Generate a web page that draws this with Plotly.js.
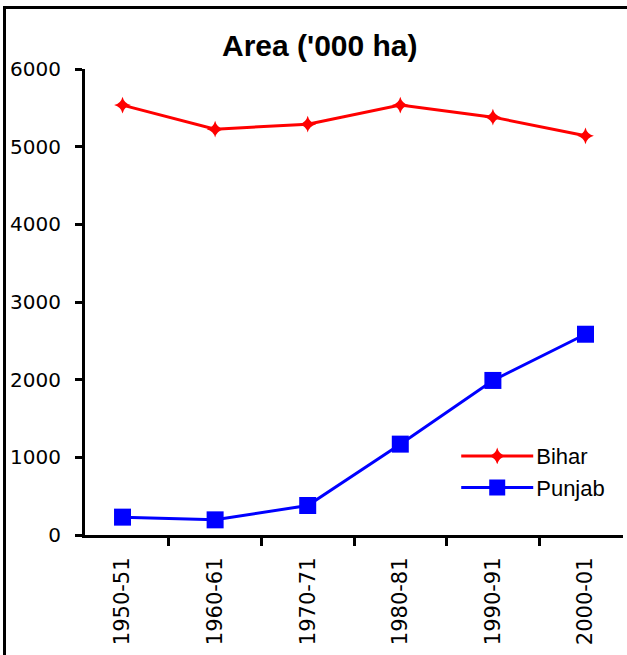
<!DOCTYPE html>
<html>
<head>
<meta charset="utf-8">
<script src="https://cdn.plot.ly/plotly-3.0.1.min.js"></script>
<style>
  html, body { margin: 0; padding: 0; background: #fff; }
  #wrap { position: relative; width: 627px; height: 655px; overflow: hidden; }
  #chart { position: absolute; left: 0; top: 0; width: 627px; height: 655px; }
  #frame { position: absolute; left: 3px; top: 6px; width: 700px; height: 700px;
           border-left: 3px solid #000; border-top: 3px solid #000; pointer-events: none; }
</style>
</head>
<body>
<div id="wrap">
  <div id="chart"></div>
  <div id="frame"></div>
</div>
<script>
const years = ["1950-51", "1960-61", "1970-71", "1980-81", "1990-91", "2000-01"];
const bihar = [5535, 5225, 5290, 5535, 5380, 5140];
const punjab = [230, 195, 380, 1170, 1990, 2585];
const yTicks = [0, 1000, 2000, 3000, 4000, 5000, 6000];

const xTickFont = { family: "DejaVu Sans, sans-serif", size: 21, color: "#000" };
const yTickFont = { family: "DejaVu Sans, sans-serif", size: 20, color: "#000" };

const traces = [
  {
    x: years, y: bihar, name: "Bihar", type: "scatter", mode: "lines+markers",
    line: { color: "#ff0000", width: 3 },
    marker: { symbol: "star-diamond", size: 12, color: "#ff0000" }
  },
  {
    x: years, y: punjab, name: "Punjab", type: "scatter", mode: "lines+markers",
    line: { color: "#0000ff", width: 3 },
    marker: { symbol: "square", size: 17, color: "#0000ff" }
  }
];

const layout = {
  width: 627, height: 655,
  margin: { l: 85, r: 4, t: 69, b: 120 },
  paper_bgcolor: "#fff", plot_bgcolor: "#fff",
  showlegend: true,
  title: {
    text: "Area ('000 ha)",
    font: { family: "Liberation Sans, Arial, sans-serif", size: 30, color: "#000", weight: "bold" },
    xref: "container", x: 0.51, xanchor: "center",
    yref: "container", y: 0.93, yanchor: "middle"
  },
  xaxis: {
    type: "category", automargin: false,
    showline: true, linecolor: "#000", linewidth: 3,
    ticks: "outside", tickson: "boundaries", ticklen: 8, tickwidth: 3, tickcolor: "#000",
    tickangle: -90, tickfont: xTickFont, ticklabelstandoff: 11,
    showgrid: false, zeroline: false, fixedrange: true
  },
  yaxis: {
    range: [0, 6000], tickvals: yTicks, ticktext: yTicks.map(String), automargin: false,
    showline: true, linecolor: "#000", linewidth: 3,
    ticks: "outside", ticklen: 7, tickwidth: 3, tickcolor: "#000",
    tickfont: yTickFont, ticklabelstandoff: 10,
    showgrid: false, zeroline: false, fixedrange: true
  },
  legend: {
    x: 0.69, xanchor: "left", y: 0.135, yanchor: "middle",
    bgcolor: "rgba(0,0,0,0)", borderwidth: 0,
    font: { family: "Liberation Sans, Arial, sans-serif", size: 22, color: "#000" },
    itemwidth: 70
  }
};

Plotly.newPlot("chart", traces, layout, { staticPlot: true, displayModeBar: false }).then(function (gd) {
  // lengthen legend line samples to match the reference legend style
  gd.querySelectorAll(".legend .traces").forEach(function (t) {
    t.querySelectorAll(".legendlines path").forEach(function (p) { p.setAttribute("d", "M5,0h72"); });
    t.querySelectorAll(".legendpoints path.scatterpts").forEach(function (p) {
      p.setAttribute("transform", "translate(41,0)");
    });
  });
});
</script>
</body>
</html>
